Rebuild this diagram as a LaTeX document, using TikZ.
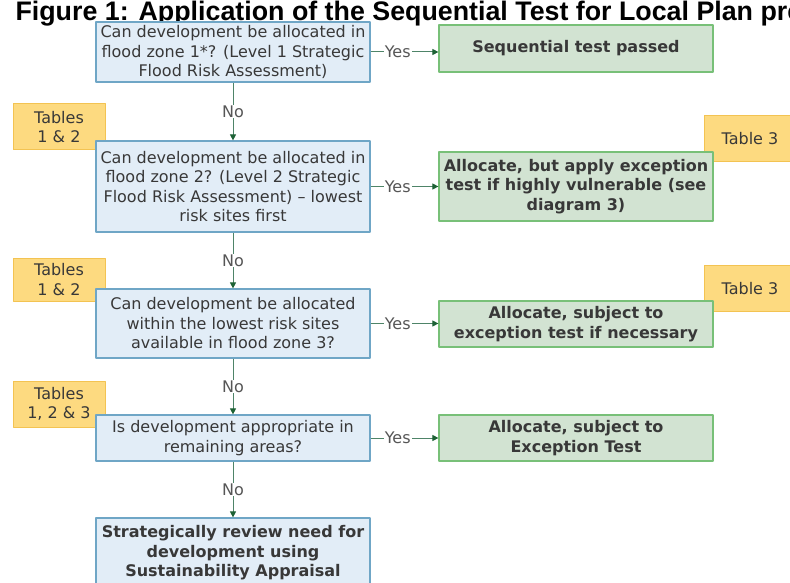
\documentclass[tikz,border=0pt]{standalone}
\usepackage{fontspec}
\usetikzlibrary{arrows.meta}
\setmainfont{DejaVu Sans}
\newfontfamily\titlefont{Liberation Sans}
\definecolor{qfill}{HTML}{E2EDF7}
\definecolor{qdraw}{HTML}{6FA6C6}
\definecolor{afill}{HTML}{D2E3D2}
\definecolor{adraw}{HTML}{78C078}
\definecolor{tfill}{HTML}{FDDA80}
\definecolor{tdraw}{HTML}{F3C352}
\definecolor{lcol}{HTML}{4E8468}
\definecolor{tipcol}{HTML}{1D6235}
\definecolor{txt}{HTML}{383838}
\begin{document}
\begin{tikzpicture}[x=1pt, y=-1pt, >={Triangle[length=6pt, width=6pt, color=tipcol]}, line join=round,
  txtfont/.style={font=\fontsize{16}{19.5}\selectfont},
  question/.style={draw=qdraw, fill=qfill, line width=1.2pt, txtfont, text=txt, align=center, minimum width=274pt, inner sep=2pt},
  answer/.style={draw=adraw, fill=afill, line width=1.2pt, font=\fontsize{16}{19.5}\selectfont\bfseries, text=txt, align=center, minimum width=274pt, inner sep=2pt},
  tablebox/.style={draw=tdraw, fill=tfill, line width=1pt, txtfont, text=txt, align=center, minimum width=92pt},
  link/.style={->, draw=lcol, line width=1pt},
  lbl/.style={fill=white, txtfont, text=txt!85, inner sep=1pt}]
\def\qx{233} \def\ax{576} \def\tlx{59} \def\trx{750} % columns
\useasboundingbox (0,0) rectangle (790,583);
\clip (0,0) rectangle (790,583);
%	\draw[gray!30] (0,0) grid[step=50] (790,583);
\node[anchor=base west, font=\titlefont\fontsize{26.8}{30}\selectfont\bfseries] (title) at (12,20.5) {Figure 1: Application of the Sequential Test for Local Plan pre};
% table references, behind the boxes
\node[tablebox, minimum height=46pt] (t1) at (\tlx,127) {Tables\\1 \& 2};
\node[tablebox, minimum height=46pt] (t2) at (\trx,138.5) {Table 3};
\node[tablebox, minimum height=43pt] (t3) at (\tlx,279.5) {Tables\\1 \& 2};
\node[tablebox, minimum height=46pt] (t4) at (\trx,288.5) {Table 3};
\node[tablebox, minimum height=46pt] (t5) at (\tlx,404) {Tables\\1, 2 \& 3};
% questions
\node[question, minimum height=60pt] (q1) at (\qx,52) {Can development be allocated in\\flood zone 1*? (Level 1 Strategic\\Flood Risk Assessment)};
\node[question, minimum height=91pt] (q2) at (\qx,186.5) {Can development be allocated in\\flood zone 2? (Level 2 Strategic\\Flood Risk Assessment) – lowest\\risk sites first};
\node[question, minimum height=69pt] (q3) at (\qx,323.5) {Can development be allocated\\within the lowest risk sites\\available in flood zone 3?};
\node[question, minimum height=46pt] (q4) at (\qx,438) {Is development appropriate in\\remaining areas?};
\node[question, minimum height=70pt, font=\fontsize{16}{19.5}\selectfont\bfseries] (q5) at (\qx,553) {Strategically review need for\\development using\\Sustainability Appraisal};
% outcomes
\node[answer, minimum height=47pt] (a1) at (\ax,48.5) {Sequential test passed};
\node[answer, minimum height=69pt] (a2) at (\ax,186.5) {Allocate, but apply exception\\test if highly vulnerable (see\\diagram 3)};
\node[answer, minimum height=46pt] (a3) at (\ax,324) {Allocate, subject to\\exception test if necessary};
\node[answer, minimum height=46pt] (a4) at (\ax,438) {Allocate, subject to\\Exception Test};
% connectors
\foreach \q/\a in {q1/a1, q2/a2, q3/a3, q4/a4}
  \draw[link] (\q.east) -- (\q.east -| \a.west) node[lbl, pos=0.4] {Yes};
\foreach \q/\p in {q1/q2, q2/q3, q3/q4, q4/q5}
  \draw[link] (\q) -- (\p) node[lbl, midway] {No};
\end{tikzpicture}
\end{document}
